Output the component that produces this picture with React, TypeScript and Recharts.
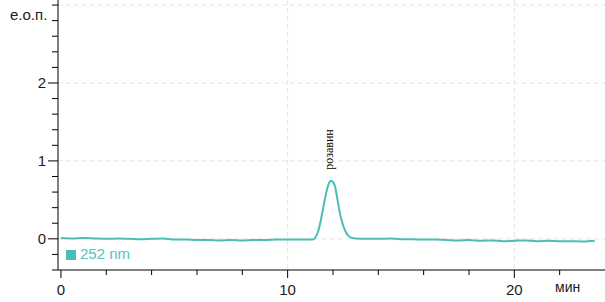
import React from 'react'
import { LineChart, Line, XAxis, YAxis, CartesianGrid, ReferenceDot } from 'recharts'

// retention time, min
const times = [
  0, 0.5, 1, 1.5, 2, 2.5, 3, 3.5, 4, 4.5, 5, 5.5, 6, 6.5, 7, 7.5, 8, 8.5, 9, 9.5, 10, 10.5, 11,
  11.15, 11.25, 11.35, 11.45, 11.55, 11.65, 11.75, 11.85, 11.92, 12.0, 12.1, 12.2, 12.3, 12.4, 12.5,
  12.6, 12.7, 12.85, 13.0, 13.5, 14, 14.5, 15, 15.5, 16, 16.5, 17, 17.5, 18, 18.5, 19, 19.5, 20,
  20.5, 21, 21.5, 22, 22.5, 23, 23.55,
]
// absorbance at 252 nm
const absorbance = [
  0.01, 0.005, 0.01, 0.005, 0.0, 0.005, 0.0, -0.005, 0.0, 0.005, -0.01, -0.01, -0.015, -0.015, -0.02, -0.015, -0.02, -0.015, -0.015, -0.01, -0.01, -0.01, -0.01,
  -0.005, 0.03, 0.1, 0.22, 0.37, 0.52, 0.65, 0.73, 0.745, 0.73, 0.66, 0.5, 0.34, 0.22, 0.13,
  0.07, 0.035, 0.01, 0.005, 0.0, 0.0, 0.005, -0.005, -0.005, -0.01, -0.01, -0.015, -0.02, -0.015, -0.025, -0.02, -0.03, -0.025,
  -0.02, -0.03, -0.025, -0.03, -0.03, -0.035, -0.025,
]
const xTicks = [0, 2, 4, 6, 8, 10, 12, 14, 16, 18, 20, 22]
const xLabels = [0, 10, 20]
const yTicks = [-0.4, -0.2, 0, 0.2, 0.4, 0.6, 0.8, 1, 1.2, 1.4, 1.6, 1.8, 2, 2.2, 2.4, 2.6, 2.8, 3]
const yLabels = [0, 1, 2]
const peakName = 'розавин'
const peakTime = 11.92
const peakHeight = 0.745
const seriesName = '252 nm'

const data = times.map((t, i) => ({ t, v: absorbance[i] }))

const TEAL = '#4bbdb6'
const INK = '#1c1c24'
const FONT = 'Arial, "Liberation Sans", sans-serif'

const XTick = (props: any) => {
  const { x, y, payload } = props
  const major = xLabels.includes(payload.value)
  return (
    <g>
      <line x1={x} y1={y} x2={x} y2={y + (major ? 8 : 5)} stroke="#000" />
      {major && (
        <text x={x} y={y + 25} textAnchor="middle" fontSize={15} fontFamily={FONT} fill={INK}>
          {payload.value}
        </text>
      )}
    </g>
  )
}

const YTick = (props: any) => {
  const { x, y, payload } = props
  const v = Math.round(Number(payload.value) * 10) / 10
  const major = yLabels.includes(v)
  return (
    <g>
      <line x1={x} y1={y} x2={x - (major ? 10 : 6)} y2={y} stroke="#000" />
      {major && (
        <text x={x - 12} y={y + 5} textAnchor="end" fontSize={15} fontFamily={FONT} fill={INK}>
          {v}
        </text>
      )}
    </g>
  )
}

const PeakLabel = (props: any) => {
  const { viewBox } = props
  const cx = viewBox.x - 2
  const by = viewBox.y - 11
  return (
    <text
      x={cx}
      y={by}
      transform={`rotate(-90 ${cx} ${by})`}
      dominantBaseline="central"
      fontSize={12}
      fontFamily='"Liberation Serif", "DejaVu Serif", serif'
      fill="#000"
    >
      {peakName}
    </text>
  )
}

export default function App() {
  return (
    <div style={{ position: 'absolute', left: 0, top: 0, width: 605, height: 302 }}>
      <LineChart width={605} height={302} data={data} margin={{ top: 0, right: 0, bottom: 0, left: 0 }}>
        <CartesianGrid
          stroke="#e4e4e4"
          strokeDasharray="5 3"
          horizontalValues={[0, 1, 2, 3]}
          verticalValues={[10, 20]}
        />
        <XAxis
          dataKey="t"
          type="number"
          domain={[-0.13, 24]}
          ticks={xTicks}
          interval={0}
          tickSize={0}
          tickMargin={0}
          tickLine={false}
          tick={<XTick />}
          stroke="#000"
          height={32}
          allowDataOverflow
        />
        <YAxis
          type="number"
          domain={[-0.4, 3.065]}
          ticks={yTicks}
          interval={0}
          tickSize={0}
          tickMargin={0}
          tickLine={false}
          tick={<YTick />}
          stroke="#000"
          width={58}
          allowDataOverflow
        />
        <Line
          type="monotone"
          dataKey="v"
          name={seriesName}
          stroke={TEAL}
          strokeWidth={2}
          dot={false}
          isAnimationActive={false}
        />
        <ReferenceDot x={peakTime} y={peakHeight} r={0} stroke="none" label={<PeakLabel />} />
      </LineChart>
      <div style={{ position: 'absolute', left: 66, top: 245, display: 'flex', alignItems: 'center', fontFamily: FONT, fontSize: 15, color: '#55c3bc' }}>
        <span style={{ display: 'inline-block', width: 10, height: 10, background: TEAL, marginRight: 4, marginTop: 3 }} />
        {seriesName}
      </div>
      <div style={{ position: 'absolute', left: 10, top: 6, fontFamily: FONT, fontSize: 15, color: INK }}>е.о.п.</div>
      <div style={{ position: 'absolute', left: 555, top: 279, fontFamily: FONT, fontSize: 14, color: INK }}>мин</div>
    </div>
  )
}
